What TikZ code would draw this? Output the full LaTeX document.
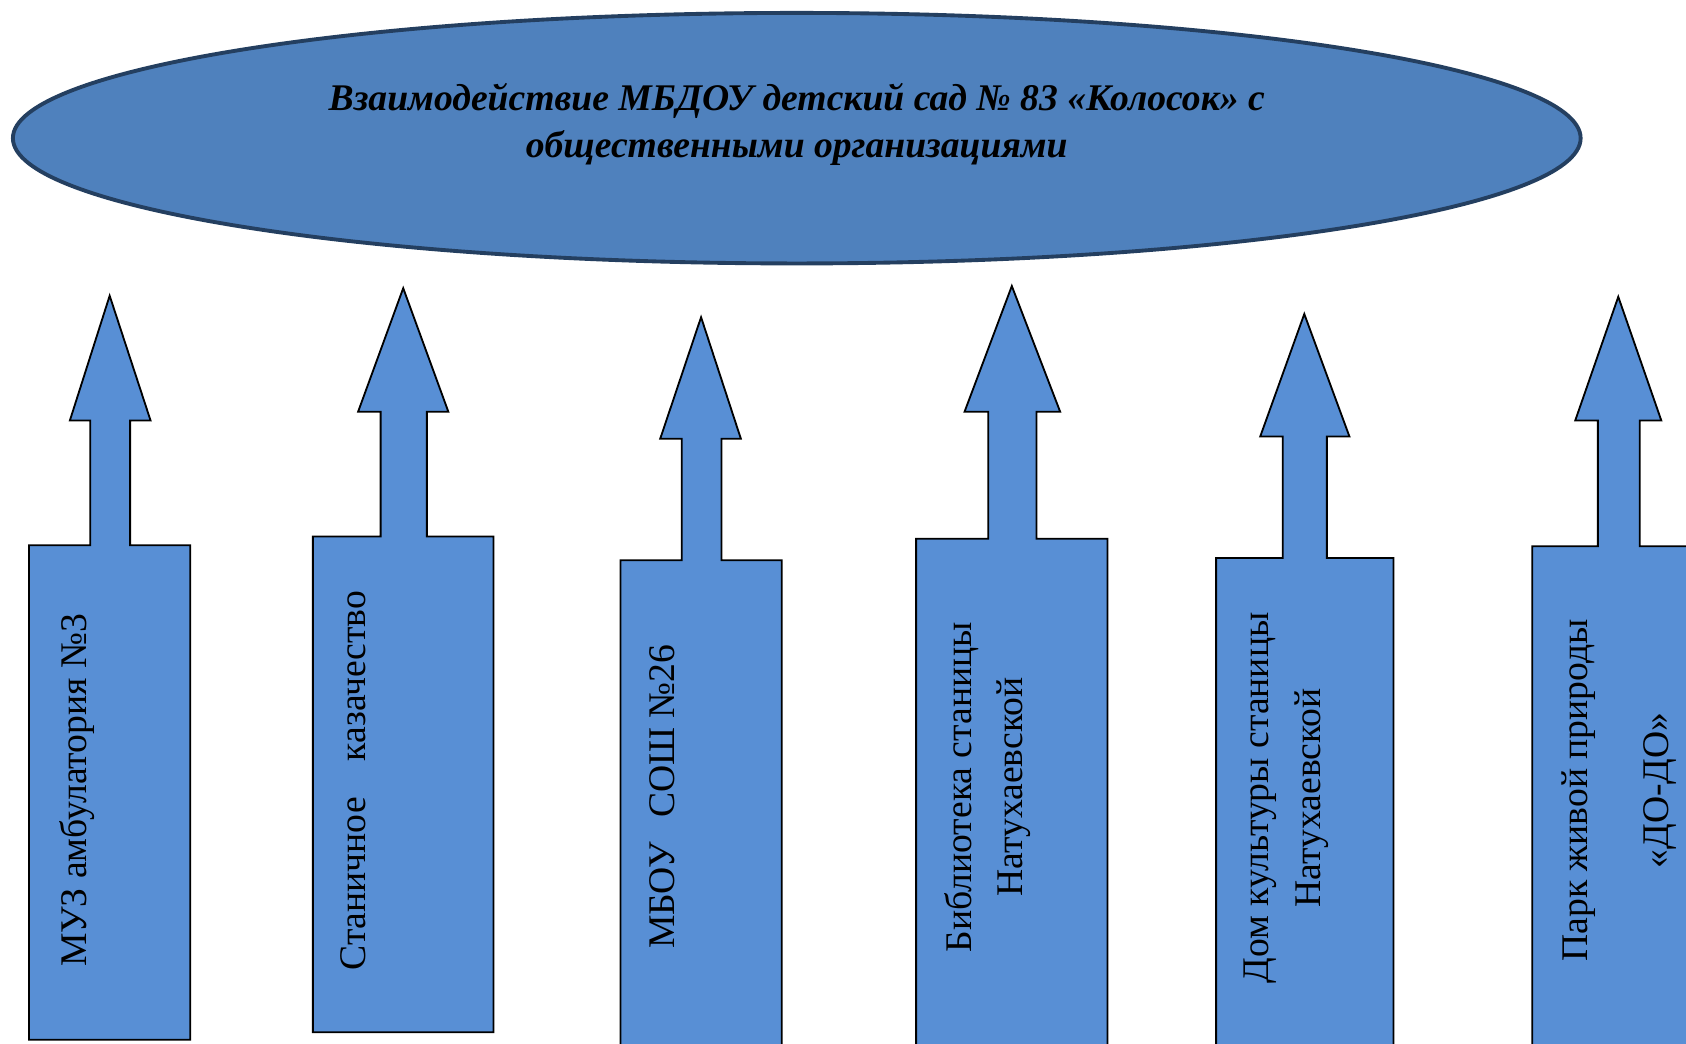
\documentclass[tikz,border=0pt]{standalone}
\usepackage{fontspec}
\setmainfont{Liberation Serif}
\definecolor{ellfill}{HTML}{4F81BD}
\definecolor{elldraw}{HTML}{243F60}
\definecolor{arrfill}{HTML}{588FD5}
\newcommand\upcallout[2]{%
  % #1: boxL,boxR,top,bottom   #2: shaftL,shaftR,headBase,headL,headR,tipX,tipY
  \callouthelper#1,#2\relax}
\def\callouthelper#1,#2,#3,#4,#5,#6,#7,#8,#9\relax{%
  \def\cbL{#1}\def\cbR{#2}\def\cbT{#3}\def\cbB{#4}\def\csL{#5}\def\csR{#6}\def\chB{#7}\def\chL{#8}\def\chRest{#9}%
  \expandafter\calloutfinish\chRest\relax}
\def\calloutfinish#1,#2,#3\relax{%
  \path[arrowshape] (\cbL,\cbB) -- (\cbL,\cbT) -- (\csL,\cbT) -- (\csL,\chB) -- (\chL,\chB)
    -- (#2,#3) -- (#1,\chB) -- (\csR,\chB) -- (\csR,\cbT) -- (\cbR,\cbT) -- (\cbR,\cbB) -- cycle;}
\tikzset{
  arrowshape/.style={fill=arrfill, draw=black, line width=1.7pt, line join=miter},
  boxtext/.style={rotate=90, anchor=north, inner sep=0pt, align=center,
    font=\fontsize{35}{48}\selectfont},
  titletext/.style={anchor=north, inner sep=0pt, align=center,
    font=\bfseries\itshape\fontsize{35}{44}\selectfont}
}
\begin{document}
\begin{tikzpicture}[x=1pt,y=-1pt]
\useasboundingbox (0,0) rectangle (1568,970);
\clip (0,0) rectangle (1568,970);
\fill[white] (0,0) rectangle (1568,970);
% central ellipse
\path[fill=ellfill, draw=elldraw, line width=3.6pt] (741,128.5) ellipse [x radius=729, y radius=116.5];
\node[titletext] (title) at (741,77) {Взаимодействие МБДОУ детский сад № 83 «Колосок» с\\общественными организациями};
% arrows
\upcallout{27,177,507,967}{84,121,391,65,140,102,275}
\upcallout{291,459,499,960}{354,397,383,333,417,375,268}
\upcallout{577,727,521,990}{634,671,408,614,689,652,295}
\upcallout{852,1030,501,990}{919,964,383,897,986,941,266}
\upcallout{1131,1296,519,990}{1193,1234,406,1172,1255,1213,292}
\upcallout{1425,1590,508,990}{1486,1525,391,1465,1545,1505,276}
% texts
\node[boxtext] (t1) at (55,735) {МУЗ амбулатория №3};
\node[boxtext] (t2) at (317,726) {Станичное\hspace{0.7em} казачество};
\node[boxtext] (t3) at (604,741) {МБОУ\hspace{0.4em} СОШ №26};
\node[boxtext] (t4) at (878,732) {Библиотека станицы\\Натухаевской};
\node[boxtext] (t5) at (1157,742) {Дом культуры станицы\\Натухаевской};
\node[boxtext] (t6) at (1452,735) {Парк живой природы\\[28pt]«ДО-ДО»};
\end{tikzpicture}
\end{document}
